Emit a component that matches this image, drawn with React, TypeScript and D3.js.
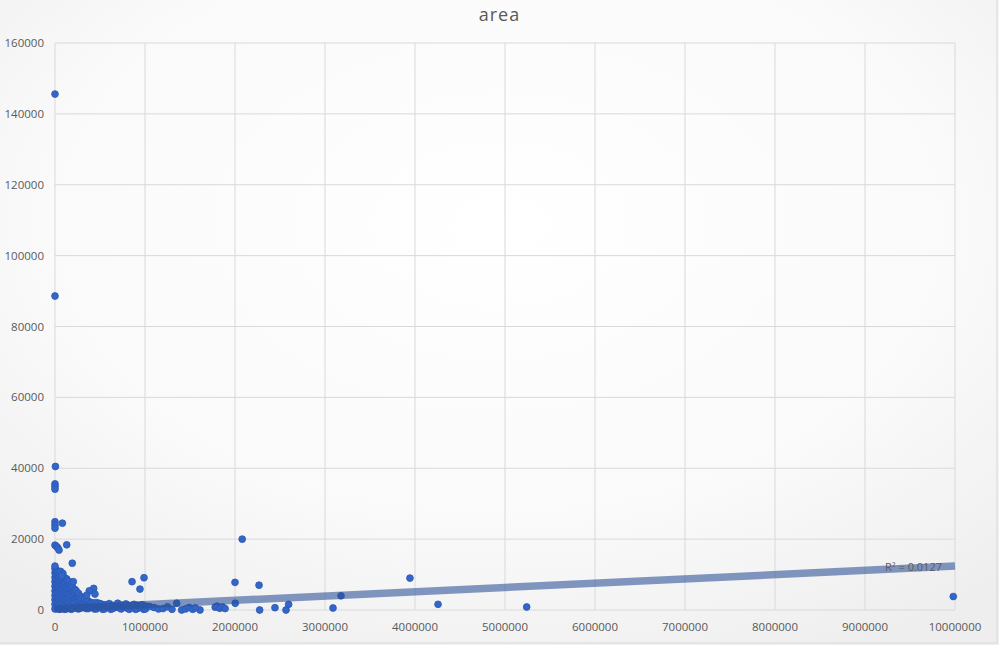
import React from 'react';
import * as d3 from 'd3';

const WIDTH = 999;
const HEIGHT = 645;

const title = 'area';
const xTicks = [0, 1000000, 2000000, 3000000, 4000000, 5000000, 6000000, 7000000, 8000000, 9000000, 10000000];
const yTicks = [0, 20000, 40000, 60000, 80000, 100000, 120000, 140000, 160000];

// isolated points
const spreadPoints: [number, number][] = [
  [0, 145600], [0, 88600], [5000, 40500], [0, 35600], [0, 34900], [0, 34100],
  [0, 24900], [0, 24000], [0, 23100], [82000, 24500],
  [2080000, 20000],
  [0, 18300], [18000, 17900], [32000, 17500], [45000, 16900], [130000, 18400],
  [0, 12400], [192000, 13200],
  [62000, 10900], [88000, 10300], [74000, 9700],
  [203000, 8000],
  [856000, 8000], [989000, 9100], [944000, 5900],
  [2000000, 7800], [2267000, 7000], [2003000, 1900], [2274000, 0], [2444000, 650], [2567000, 0], [2596000, 1600],
  [3089000, 560], [3178000, 4000], [3944000, 9000], [4256000, 1600], [5241000, 850], [9981000, 3800],
  [430000, 6100], [444000, 4500], [381000, 5400], [352000, 4200],
  [1352000, 1900], [1407000, 0], [1611000, 0],
  [1450000, 300], [1490000, 700], [1530000, 200], [1560000, 600],
  [1780000, 800], [1800000, 1100], [1830000, 500], [1860000, 900], [1890000, 400],
  [1050000, 1000], [1100000, 700], [1150000, 300], [1200000, 400], [1250000, 900], [1300000, 200],
];

// the dense mass near the origin
const clusterPoints: [number, number][] = [
  [0, 300], [0, 1600], [0, 2900], [0, 4100], [0, 5400], [0, 6700], [0, 8000], [0, 9200], [0, 10500], [0, 11700],
  [12000, 900], [13000, 2300], [11000, 3500], [12000, 4700], [14000, 6000], [12000, 7400], [13000, 8600], [11000, 9800], [12000, 11200],
  [25000, 900], [25000, 2200], [26000, 3500], [24000, 4800], [27000, 6100], [25000, 7300], [23000, 8600], [26000, 9900], [25000, 11100],
  [40000, 300], [41000, 1700], [39000, 2900], [42000, 4300], [40000, 5600], [38000, 6900], [41000, 8100], [40000, 9400], [39000, 10600],
  [55000, 200], [54000, 1500], [57000, 2800], [55000, 4000], [53000, 5300], [56000, 6600], [55000, 7900], [58000, 9100], [54000, 10200],
  [72000, 900], [71000, 2300], [74000, 3600], [72000, 4900], [70000, 6100], [73000, 7400], [71000, 8700], [75000, 9800],
  [90000, 700], [88000, 2000], [92000, 3300], [90000, 4500], [87000, 5800], [91000, 7000], [89000, 8300], [93000, 9400],
  [107000, 200], [106000, 1400], [109000, 2600], [105000, 3900], [108000, 5100], [107000, 6400], [104000, 7600], [110000, 8900],
  [125000, 300], [123000, 1600], [127000, 2800], [124000, 4100], [128000, 5300], [126000, 6500], [122000, 7700], [129000, 8800],
  [142000, 1000], [141000, 2300], [144000, 3500], [140000, 4700], [143000, 6000], [145000, 7200], [139000, 8300],
  [160000, 900], [158000, 2200], [162000, 3400], [159000, 4700], [163000, 5900], [161000, 7100], [157000, 8000],
  [180000, 200], [178000, 1500], [182000, 2600], [179000, 3800], [183000, 5000], [177000, 6200], [181000, 7300],
  [200000, 400], [198000, 1700], [203000, 2900], [199000, 4100], [202000, 5300], [197000, 6300],
  [220000, 1100], [218000, 2300], [223000, 3400], [219000, 4600], [221000, 5800],
  [240000, 1000], [238000, 2300], [243000, 3500], [241000, 4600], [236000, 5400],
  [260000, 300], [258000, 1500], [262000, 2700], [259000, 3800], [261000, 4700],
  [280000, 500], [283000, 1700], [278000, 2900], [282000, 3900],
  [300000, 1100], [303000, 2200], [298000, 3300],
  [325000, 1100], [322000, 2300], [328000, 3200],
  [348000, 400], [346000, 1600], [351000, 2700],
  [370000, 400], [368000, 1500], [373000, 2500],
  [393000, 1000], [396000, 2100],
  [415000, 900], [418000, 2000],
  [438000, 300], [441000, 1400],
  [460000, 300], [463000, 1400], [458000, 2100],
  [483000, 900], [487000, 1900],
  [505000, 800], [512000, 1700], [530000, 200], [550000, 300], [556000, 1500], [575000, 1000], [595000, 900], [603000, 1800],
  [620000, 200], [640000, 400], [648000, 1300], [668000, 700], [690000, 1000], [697000, 1900], [715000, 600], [735000, 300], [742000, 1400],
  [760000, 900], [780000, 800], [788000, 1700], [805000, 500], [825000, 200], [830000, 1200], [850000, 600], [870000, 900], [878000, 1600],
  [895000, 200], [915000, 400], [922000, 1300], [940000, 800], [960000, 700], [968000, 1500], [985000, 200], [1005000, 300], [1012000, 1100],
];

// linear trendline as shown (ends of the fitted line)
const trendPoints: [number, number][] = [[0, 300], [10000000, 12400]];
const rSquared = '0.0127';

const FONT = '"Open Sans", "Liberation Sans", sans-serif';
const TEXT = '#595959';
const GRID = '#d9d9d9';

export default function App() {
  const x = d3.scaleLinear().domain([0, 10000000]).range([55, 955]);
  const y = d3.scaleLinear().domain([0, 160000]).range([610, 43]);
  const line = d3.line<[number, number]>().x(d => x(d[0])).y(d => y(d[1]));
  const all = [...clusterPoints, ...spreadPoints];
  const last = trendPoints[trendPoints.length - 1];

  return (
    <svg width={WIDTH} height={HEIGHT} style={{ position: 'absolute', left: 0, top: 0, display: 'block' }}>
      <defs>
        <radialGradient id="bg" cx="50%" cy="35%" r="75%">
          <stop offset="0%" stopColor="#ffffff" />
          <stop offset="60%" stopColor="#fafafa" />
          <stop offset="100%" stopColor="#eeeeee" />
        </radialGradient>
      </defs>
      <rect x={0} y={0} width={WIDTH} height={HEIGHT} fill="url(#bg)" />

      {/* gridlines */}
      {xTicks.map(t => (
        <line key={'gx' + t} x1={x(t)} x2={x(t)} y1={y(160000)} y2={y(0)} stroke={GRID} strokeWidth={1} />
      ))}
      {yTicks.map(t => (
        <line key={'gy' + t} x1={x(0)} x2={x(10000000)} y1={y(t)} y2={y(t)} stroke={GRID} strokeWidth={1} />
      ))}

      {/* markers */}
      {all.map((d, i) => (
        <circle key={i} cx={x(d[0])} cy={y(d[1])} r={3.4} fill="#3366c9" stroke="#2a58b3" strokeWidth={0.8} />
      ))}

      {/* trendline */}
      <path d={line(trendPoints) || ''} fill="none" stroke="#2b5096" strokeOpacity={0.58} strokeWidth={7.5} />
      <text x={x(last[0]) - 13} y={y(last[1]) + 5} textAnchor="end" fontFamily={FONT} fontSize={11} fill={TEXT}>
        {'R² = ' + rSquared}
      </text>

      {/* tick labels */}
      {yTicks.map(t => (
        <text key={'ty' + t} x={44} y={y(t)} dy="0.35em" textAnchor="end" fontFamily={FONT} fontSize={11.5} fill={TEXT}>
          {t}
        </text>
      ))}
      {xTicks.map(t => (
        <text key={'tx' + t} x={x(t)} y={627} dy="0.35em" textAnchor="middle" fontFamily={FONT} fontSize={11.5} fill={TEXT}>
          {t}
        </text>
      ))}

      <text x={WIDTH / 2} y={21} textAnchor="middle" fontFamily={FONT} fontSize={18} letterSpacing={1} fill={TEXT}>
        {title}
      </text>

      <rect x={-1} y={-1} width={WIDTH - 1} height={HEIGHT - 1} fill="none" stroke={GRID} strokeWidth={1} />
    </svg>
  );
}
